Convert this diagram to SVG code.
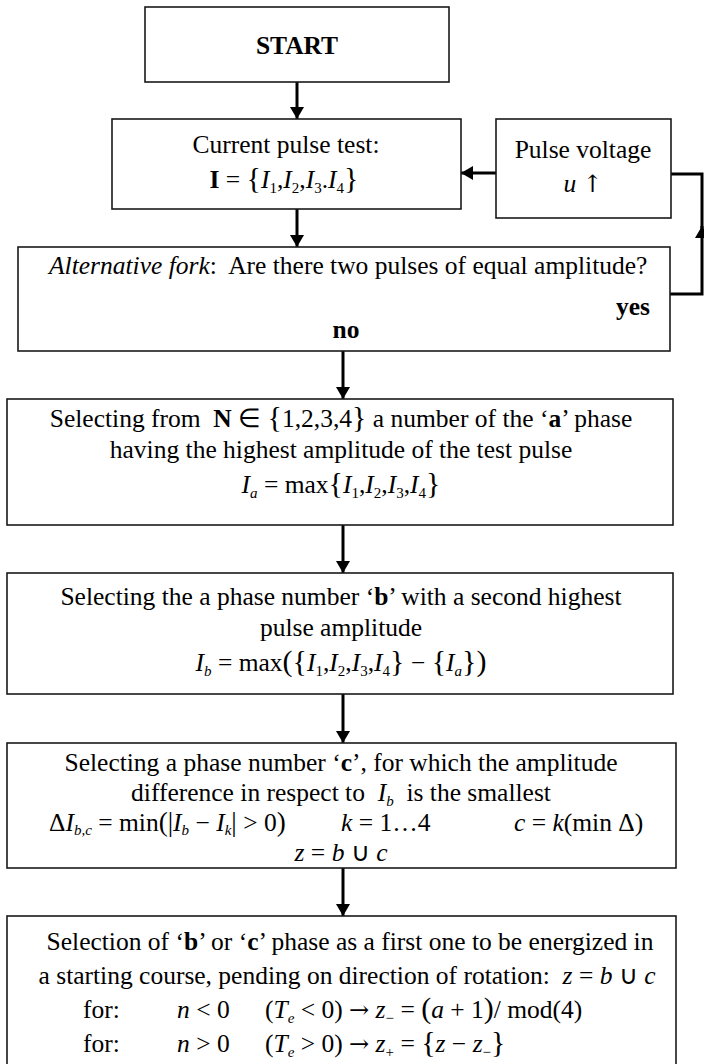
<svg xmlns="http://www.w3.org/2000/svg" width="704" height="1064" viewBox="0 0 704 1064">
<defs>
<style>
.box{fill:#fff;stroke:#1a1a1a;stroke-width:1.6}
.con{fill:none;stroke:#000;stroke-width:3}
.t{font-family:"Liberation Serif","Times New Roman",serif;font-size:25.5px;fill:#000}
.i{font-style:italic}
.b{font-weight:bold}
.s{font-size:15px}
.br{font-size:30px}
.br2{font-size:27px}
.ar{font-family:"DejaVu Serif",serif;font-size:24px}
</style>
<marker id="ah" markerWidth="12" markerHeight="14" refX="12" refY="7" orient="auto" markerUnits="userSpaceOnUse">
<path d="M0,0 L12,7 L0,14 z" fill="#000"/>
</marker>
</defs>
<rect width="704" height="1064" fill="#fff"/>

<g id="connectors">
<path class="con" d="M297,82 V119" marker-end="url(#ah)"/>
<path class="con" d="M297,209 V247" marker-end="url(#ah)"/>
<path class="con" d="M343,351 V399" marker-end="url(#ah)"/>
<path class="con" d="M343,525 V573" marker-end="url(#ah)"/>
<path class="con" d="M343,694 V743" marker-end="url(#ah)"/>
<path class="con" d="M343,868 V916" marker-end="url(#ah)"/>
<path class="con" d="M496,173 H461" marker-end="url(#ah)"/>
<path class="con" d="M670,294 H702 V226" marker-end="url(#ah)"/>
<path class="con" d="M702,230 V174 H671"/>
</g>

<g id="start">
<rect class="box" x="145" y="7" width="304" height="75"/>
<text class="t b" x="297" y="54" text-anchor="middle">START</text>
</g>

<g id="current-pulse-test">
<rect class="box" x="112" y="119" width="349" height="90"/>
<text class="t" x="286" y="153" text-anchor="middle">Current pulse test:</text>
<text class="t" x="284" y="188" text-anchor="middle"><tspan class="b">I</tspan> = <tspan class="br">{</tspan><tspan class="i">I</tspan><tspan class="s" dy="5">1</tspan><tspan dy="-5">,</tspan><tspan class="i">I</tspan><tspan class="s" dy="5">2</tspan><tspan dy="-5">,</tspan><tspan class="i">I</tspan><tspan class="s" dy="5">3</tspan><tspan dy="-5">.</tspan><tspan class="i">I</tspan><tspan class="s" dy="5">4</tspan><tspan class="br" dy="-5">}</tspan></text>
</g>

<g id="pulse-voltage">
<rect class="box" x="496" y="119" width="175" height="99"/>
<text class="t" x="583" y="158" text-anchor="middle">Pulse voltage</text>
<text class="t" x="583" y="192" text-anchor="middle"><tspan class="i">u</tspan> <tspan class="ar">↑</tspan></text>
</g>

<g id="alternative-fork">
<rect class="box" x="18" y="247" width="652" height="104"/>
<text class="t" x="49" y="274" xml:space="preserve"><tspan class="i">Alternative fork</tspan>:  Are there two pulses of equal amplitude?</text>
<text class="t b" x="650" y="315" text-anchor="end">yes</text>
<text class="t b" x="346" y="338" text-anchor="middle">no</text>
</g>

<g id="select-a">
<rect class="box" x="7" y="399" width="666" height="126"/>
<text class="t" x="341" y="427" text-anchor="middle" xml:space="preserve">Selecting from  <tspan class="b">N</tspan> ∈ <tspan class="br">{</tspan>1,2,3,4<tspan class="br">}</tspan> a number of the ‘<tspan class="b">a</tspan>’ phase</text>
<text class="t" x="341" y="458" text-anchor="middle">having the highest amplitude of the test pulse</text>
<text class="t" x="341" y="493" text-anchor="middle"><tspan class="i">I</tspan><tspan class="s i" dy="5">a</tspan><tspan dy="-5"> = max</tspan><tspan class="br">{</tspan><tspan class="i">I</tspan><tspan class="s" dy="5">1</tspan><tspan dy="-5">,</tspan><tspan class="i">I</tspan><tspan class="s" dy="5">2</tspan><tspan dy="-5">,</tspan><tspan class="i">I</tspan><tspan class="s" dy="5">3</tspan><tspan dy="-5">,</tspan><tspan class="i">I</tspan><tspan class="s" dy="5">4</tspan><tspan class="br" dy="-5">}</tspan></text>
</g>

<g id="select-b">
<rect class="box" x="7" y="573" width="666" height="121"/>
<text class="t" x="341" y="605" text-anchor="middle">Selecting the a phase number ‘<tspan class="b">b</tspan>’ with a second highest</text>
<text class="t" x="341" y="636" text-anchor="middle">pulse amplitude</text>
<text class="t" x="341" y="671" text-anchor="middle"><tspan class="i">I</tspan><tspan class="s i" dy="5">b</tspan><tspan dy="-5"> = max</tspan><tspan class="br">({</tspan><tspan class="i">I</tspan><tspan class="s" dy="5">1</tspan><tspan dy="-5">,</tspan><tspan class="i">I</tspan><tspan class="s" dy="5">2</tspan><tspan dy="-5">,</tspan><tspan class="i">I</tspan><tspan class="s" dy="5">3</tspan><tspan dy="-5">,</tspan><tspan class="i">I</tspan><tspan class="s" dy="5">4</tspan><tspan class="br" dy="-5">}</tspan> − <tspan class="br">{</tspan><tspan class="i">I</tspan><tspan class="s i" dy="5">a</tspan><tspan class="br" dy="-5">})</tspan></text>
</g>

<g id="select-c">
<rect class="box" x="7" y="743" width="669" height="125"/>
<text class="t" x="341" y="771" text-anchor="middle">Selecting a phase number ‘<tspan class="b">c</tspan>’, for which the amplitude</text>
<text class="t" x="341" y="801" text-anchor="middle" xml:space="preserve">difference in respect to  <tspan class="i">I</tspan><tspan class="s i" dy="5">b</tspan><tspan dy="-5">  is the smallest</tspan></text>
<text class="t" x="49" y="831">Δ<tspan class="i">I</tspan><tspan class="s i" dy="4">b,c</tspan><tspan dy="-4"> = min</tspan><tspan class="br2">(|</tspan><tspan class="i">I</tspan><tspan class="s i" dy="4">b</tspan><tspan dy="-4"> − </tspan><tspan class="i">I</tspan><tspan class="s i" dy="4">k</tspan><tspan class="br2" dy="-4">|</tspan> &gt; 0<tspan class="br2">)</tspan></text>
<text class="t" x="341" y="831"><tspan class="i">k</tspan> = 1…4</text>
<text class="t" x="514" y="831"><tspan class="i">c</tspan> = <tspan class="i">k</tspan>(min Δ)</text>
<text class="t" x="341" y="861" text-anchor="middle"><tspan class="i">z</tspan> = <tspan class="i">b</tspan> ∪ <tspan class="i">c</tspan></text>
</g>

<g id="select-first-phase">
<rect class="box" x="7" y="916" width="669" height="160"/>
<text class="t" x="350" y="950" text-anchor="middle">Selection of ‘<tspan class="b">b</tspan>’ or ‘<tspan class="b">c</tspan>’ phase as a first one to be energized in</text>
<text class="t" x="347" y="984" text-anchor="middle" xml:space="preserve">a starting course, pending on direction of rotation:  <tspan class="i">z</tspan> = <tspan class="i">b</tspan> ∪ <tspan class="i">c</tspan></text>
<text class="t" x="83" y="1018">for:</text>
<text class="t" x="177" y="1018"><tspan class="i">n</tspan> &lt; 0</text>
<text class="t" x="265" y="1018">(<tspan class="i">T</tspan><tspan class="s i" dy="5">e</tspan><tspan dy="-5"> &lt; 0) </tspan><tspan class="ar">→</tspan> <tspan class="i">z</tspan><tspan class="s" dy="5">−</tspan><tspan dy="-5"> = </tspan><tspan class="br">(</tspan><tspan class="i">a</tspan> + 1<tspan class="br">)</tspan>/ mod(4)</text>
<text class="t" x="83" y="1052">for:</text>
<text class="t" x="177" y="1052"><tspan class="i">n</tspan> &gt; 0</text>
<text class="t" x="265" y="1052">(<tspan class="i">T</tspan><tspan class="s i" dy="5">e</tspan><tspan dy="-5"> &gt; 0) </tspan><tspan class="ar">→</tspan> <tspan class="i">z</tspan><tspan class="s" dy="5">+</tspan><tspan dy="-5"> = </tspan><tspan class="br">{</tspan><tspan class="i">z</tspan> − <tspan class="i">z</tspan><tspan class="s" dy="5">−</tspan><tspan class="br" dy="-5">}</tspan></text>
</g>
</svg>
